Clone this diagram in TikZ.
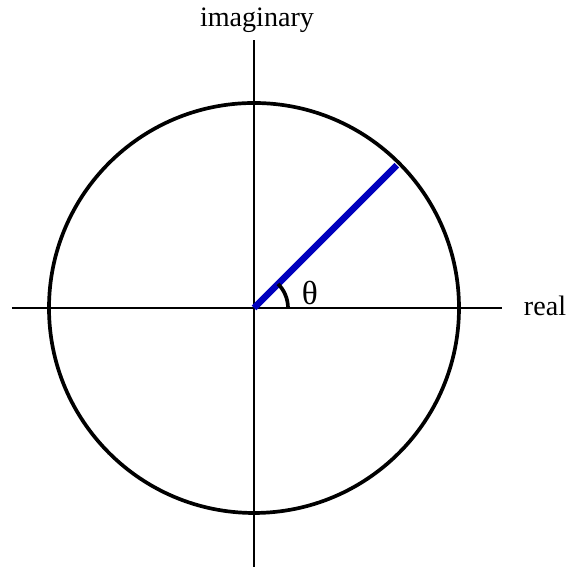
\documentclass[tikz,border=0pt]{standalone}
\usepackage{fontspec}
\setmainfont{Liberation Serif}
\usetikzlibrary{angles}
\definecolor{radblue}{RGB}{0,0,190}
\tikzset{lbl/.style={font=\fontsize{8}{10}\selectfont,inner sep=0pt}}

\begin{document}
\begin{tikzpicture}[x=1cm,y=1cm]
\useasboundingbox (-2.54,-2.59) rectangle (3.17,3.08);
\coordinate (O) at (0,0);
\coordinate (L) at (-2.42,0);
\coordinate (R) at (2.48,0);
\coordinate (B) at (0,-2.59);
\coordinate (T) at (0,2.68);
\coordinate (P) at (45:2.02);
\draw[line width=0.4pt] (L)--(R) (B)--(T);
\draw[line width=1.05pt] (O) circle (2.05);
\draw[line width=1.9pt,radblue] (O)--(P)
pic[draw=black,line width=1.05pt,angle radius=0.34cm]{angle = R--O--P};
\node[lbl] (re) at (2.91,0.02) {real};
\node[lbl] (im) at (0.03,2.88) {imaginary};
\node[lbl,font=\fontsize{9.5}{11}\selectfont] (th) at (0.56,0.15) {θ};
\end{tikzpicture}
\end{document}
